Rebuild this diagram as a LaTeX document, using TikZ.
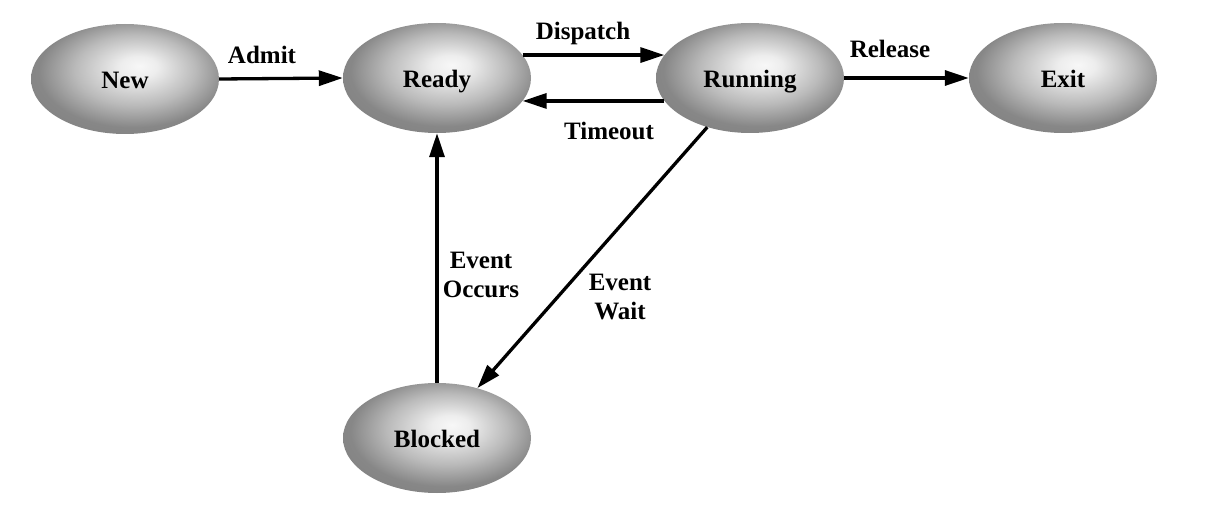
\documentclass[tikz,border=0pt]{standalone}
\usepackage{fontspec}
\setmainfont{Liberation Serif}
\usetikzlibrary{shapes.geometric,arrows.meta}
\pgfdeclareradialshading{ball}{\pgfpoint{4bp}{6bp}}{%
  color(0bp)=(white!97!black);
  color(5bp)=(white!93!black);
  color(16bp)=(black!27);
  color(25bp)=(black!47);
  color(50bp)=(black!55)}
\tikzset{
  state/.style={ellipse, minimum width=188pt, minimum height=110pt, inner sep=0pt,
    text height=21pt, text depth=2pt,
    shading=ball, font=\bfseries\fontsize{25}{29}\selectfont},
  lbl/.style={font=\bfseries\fontsize{25}{29}\selectfont, align=center, inner sep=0pt},
  conn/.style={line width=3.3pt, -{Triangle[length=24pt,width=15pt]}}
}
\begin{document}
\begin{tikzpicture}[x=1pt,y=-1pt]
\useasboundingbox (0,0) rectangle (1218,505);
\node[state] (new) at (125,79) {New};
\node[state] (ready) at (437,78) {Ready};
\node[state] (running) at (750,78) {Running};
\node[state] (exit) at (1063,78) {Exit};
\node[state] (blocked) at (437,438) {Blocked};

\draw[conn] (new.east) -- (ready.west);
\draw[conn] (ready.15) -- (running.165);
\draw[conn] (running.195) -- (ready.-15);
\draw[conn] (running.east) -- (exit.west);
\draw[conn] (blocked.north) -- (ready.south);
\draw[conn] (running.229) -- (blocked.51);

\node[lbl] (ladmit) at (262,55) {Admit};
\node[lbl] (ldispatch) at (583,33) {Dispatch};
\node[lbl] (ltimeout) at (609,131) {Timeout};
\node[lbl] (lrelease) at (890,49) {Release};
\node[lbl] (loccurs) at (481,275) {Event\\Occurs};
\node[lbl] (lwait) at (620,297) {Event\\Wait};
\end{tikzpicture}
\end{document}
